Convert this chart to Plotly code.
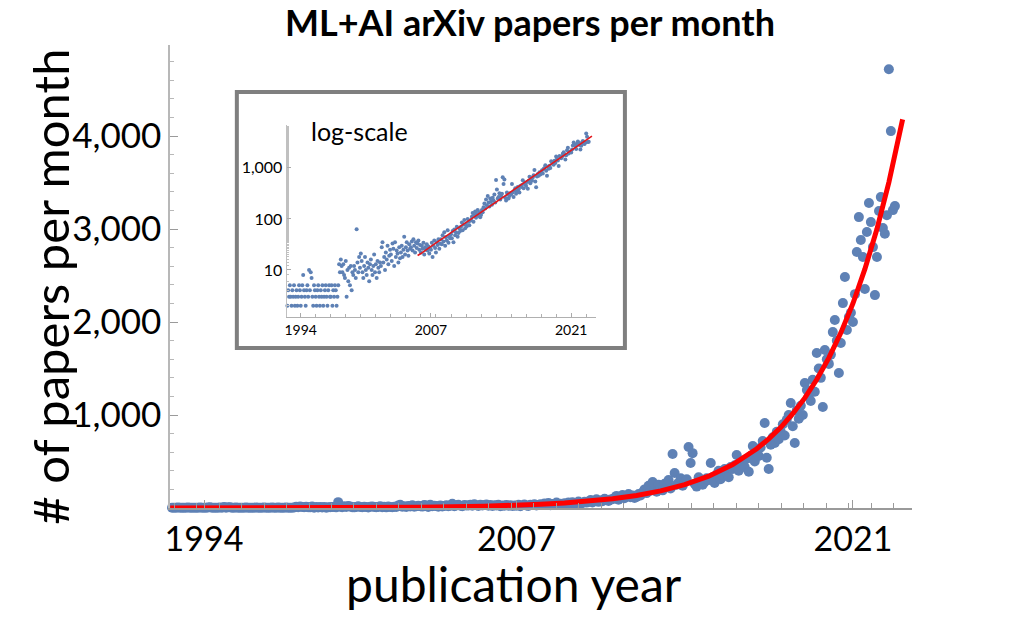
import pandas as pd
import plotly.graph_objects as go

# ---------------- data ----------------
first_month = "1992-08-01"
papers_per_month = [
    3, 2, 4, 3, 5,                                            # 1992 (Aug-Dec)
    3, 2, 4, 3, 5, 2, 3, 4, 2, 3, 5, 4,                       # 1993
    2, 3, 5, 8, 4, 3, 2, 4, 5, 3, 10, 4,                      # 1994
    9, 7, 3, 2, 5, 4, 3, 2, 4, 5, 3, 2,                       # 1995
    4, 3, 5, 2, 3, 4, 5, 3, 2, 4, 5, 3,                       # 1996
    3, 5, 2, 4, 3, 5, 4, 2, 3, 5, 13, 9,                      # 1997
    16, 12, 9, 13, 8, 7, 15, 3, 10, 6, 11, 5,                 # 1998
    12, 4, 9, 8, 12, 10, 7, 63, 14, 9, 18, 11,                # 1999
    21, 15, 9, 7, 12, 18, 10, 8, 14, 11, 6, 13,               # 2000
    16, 10, 8, 12, 20, 9, 13, 7, 15, 11, 9, 14,               # 2001
    12, 28, 35, 14, 18, 10, 22, 16, 30, 13, 19, 25,           # 2002
    20, 15, 33, 26, 12, 35, 18, 24, 21, 14, 28, 17,           # 2003
    22, 30, 18, 25, 45, 20, 28, 35, 24, 19, 32, 26,           # 2004
    28, 36, 24, 40, 30, 22, 35, 27, 33, 38, 25, 31,           # 2005
    22, 30, 26, 34, 20, 28, 25, 32, 24, 29, 21, 27,           # 2006
    25, 34, 18, 30, 38, 27, 22, 35, 31, 40, 26, 33,           # 2007
    40, 32, 48, 36, 55, 30, 44, 38, 60, 34, 46, 42,           # 2008
    50, 42, 58, 35, 62, 48, 55, 70, 45, 53, 66, 58,           # 2009
    70, 85, 60, 78, 95, 66, 80, 72, 100, 88, 75, 92,          # 2010
    95, 110, 130, 88, 120, 140, 105, 125, 150, 115, 135, 108, # 2011
    120, 150, 135, 170, 200, 160, 240, 185, 280, 210, 175, 250,  # 2012
    220, 190, 260, 230, 300, 210, 580, 376, 250, 270, 320, 240,  # 2013
    280, 310, 656, 484, 590, 260, 230, 330, 300, 250, 280, 320,  # 2014
    300, 484, 330, 270, 360, 400, 310, 350, 420, 380, 330, 440,  # 2015
    420, 460, 570, 400, 510, 480, 440, 530, 390, 560, 667, 500,  # 2016
    600, 560, 650, 720, 914, 540, 419, 680, 760, 700, 820, 740,  # 2017
    820, 900, 780, 950, 1000, 1129, 880, 700, 1050, 960, 1100, 1000,      # 2018
    1344, 1270, 1200, 1150, 1380, 1250, 1667, 1500, 1400, 1086, 1700, 1600,  # 2019
    1550, 1650, 1892, 2022, 1800, 1452, 1774, 2204, 2484, 1914, 2054, 2100,  # 2020
    2000, 2300, 2753, 3129, 2882, 2700, 2355, 2968, 3280, 3075, 2806, 2290,  # 2021
    2700, 3194, 3344, 3011, 2950, 3150, 4720, 4054, 3204, 3247,              # 2022 (Jan-Oct)
]

# exponential fit curve (red)
fit_dates = ["1992-08-01", "1996-01-01", "2000-01-01", "2003-01-01", "2005-09-01",
             "2006-01-01", "2007-01-01", "2008-01-01", "2009-01-01", "2010-01-01",
             "2011-01-01", "2012-01-01", "2013-01-01", "2014-01-01", "2015-01-01",
             "2016-01-01", "2016-07-01", "2017-01-01", "2017-07-01", "2018-01-01",
             "2018-07-01", "2019-01-01", "2019-07-01", "2020-01-01", "2020-07-01",
             "2021-01-01", "2021-07-01", "2022-01-01", "2022-07-01", "2023-01-26"]
fit_values = [0.3, 0.95, 3.3, 8.3, 19.2,
              21, 29, 39, 53, 73,
              99, 135, 184, 251, 342,
              467, 545, 637, 743, 868,
              1014, 1184, 1382, 1614, 1884,
              2200, 2569, 3000, 3503, 4180]
inset_fit_start = 4  # red line in inset starts at 2005-09

tick_years = ["1994-01-01", "2007-01-01", "2021-01-01"]
tick_labels = ["1994", "2007", "2021"]
y_ticks = [1000, 2000, 3000, 4000]
y_tick_labels = ["1,000", "2,000", "3,000", "4,000"]
log_ticks = [10, 100, 1000]
log_tick_labels = ["10", "100", "1,000"]

months = pd.date_range(first_month, periods=len(papers_per_month), freq="MS")

# ---------------- figure ----------------
W, H = 1009, 627
BLUE = "#5E81B5"
FONT = "Lato"
AX = "#9a9a9a"

def px(x):
    return x / W

def py(y):
    return 1 - y / H

x_range = ["1992-08-04", "2023-06-25"]
YEAR_MS = 365.25 * 86400000

fig = go.Figure()

# main chart
fig.add_trace(go.Scatter(x=months, y=papers_per_month, mode="markers",
                         marker=dict(color=BLUE, size=10, line=dict(width=0)),
                         cliponaxis=False, xaxis="x", yaxis="y", showlegend=False))
fig.add_trace(go.Scatter(x=fit_dates, y=fit_values, mode="lines",
                         line=dict(color="#FF0000", width=5),
                         cliponaxis=False, xaxis="x", yaxis="y", showlegend=False))

# inset (log scale)
fig.add_trace(go.Scatter(x=months, y=papers_per_month, mode="markers",
                         marker=dict(color=BLUE, size=4, line=dict(width=0)),
                         cliponaxis=False, xaxis="x2", yaxis="y2", showlegend=False))
fig.add_trace(go.Scatter(x=fit_dates[inset_fit_start:], y=fit_values[inset_fit_start:],
                         mode="lines", line=dict(color="#E3171C", width=1.6),
                         cliponaxis=False, xaxis="x2", yaxis="y2", showlegend=False))

fig.update_layout(
    width=W, height=H,
    margin=dict(l=0, r=0, t=0, b=0),
    paper_bgcolor="white", plot_bgcolor="rgba(0,0,0,0)",
    font=dict(family=FONT, color="black"),
    xaxis=dict(domain=[px(166), px(912)], type="date", range=x_range,
               tickmode="array", tickvals=tick_years, ticktext=tick_labels,
               ticks="inside", ticklen=8, tickcolor=AX, tickwidth=1,
               tickfont=dict(size=34, family=FONT),
               showline=True, linecolor=AX, linewidth=1.5,
               showgrid=False, zeroline=False, anchor="y",
               minor=dict(tickmode="linear", tick0="2020-10-31",
                          dtick=0.936 * YEAR_MS, ticks="inside",
                          ticklen=5, tickcolor=AX, showgrid=False)),
    yaxis=dict(domain=[py(508), py(45)], range=[0, 4980],
               tickmode="array", tickvals=y_ticks, ticktext=y_tick_labels,
               ticks="inside", ticklen=8, tickcolor=AX,
               tickfont=dict(size=35, family=FONT),
               showline=True, linecolor="#b8b8b8", linewidth=1.5,
               showgrid=False, zeroline=False, anchor="x",
               minor=dict(tickmode="linear", tick0=0, dtick=200, ticks="inside",
                          ticklen=4, tickcolor="#b8b8b8", showgrid=False)),
    xaxis2=dict(domain=[px(283), px(594)], type="date", range=x_range,
                tickmode="array", tickvals=tick_years, ticktext=tick_labels,
                ticks="inside", ticklen=4, tickcolor="#aaaaaa",
                tickfont=dict(size=14, family=FONT),
                showline=True, linecolor="#b0b0b0", linewidth=1,
                showgrid=False, zeroline=False, anchor="y2",
                minor=dict(tickmode="linear", tick0="2021-01-01",
                           dtick=1.5 * YEAR_MS, ticks="inside",
                           ticklen=3, tickcolor="#b0b0b0", showgrid=False)),
    yaxis2=dict(domain=[py(317), py(125)], type="log", range=[0.079, 3.84],
                tickmode="array", tickvals=log_ticks, ticktext=log_tick_labels,
                ticks="inside", ticklen=4, tickcolor="#aaaaaa",
                tickfont=dict(size=16, family=FONT),
                showline=True, linecolor="#c0c0c0", linewidth=1,
                showgrid=False, zeroline=False, anchor="x2",
                minor=dict(ticks="inside", ticklen=2, tickcolor="#c0c0c0",
                           showgrid=False)),
    shapes=[dict(type="rect", xref="paper", yref="paper", layer="below",
                 x0=px(233), x1=px(623), y0=py(348), y1=py(92),
                 line=dict(color="#7f7f7f", width=4), fillcolor="white")],
    annotations=[
        dict(text="<b>ML+AI arXiv papers per month</b>", xref="paper", yref="paper",
             x=px(528), y=py(22), xanchor="center", yanchor="middle",
             showarrow=False, font=dict(size=36, family=FONT)),
        dict(text="# of papers per month", xref="paper", yref="paper",
             x=px(45), y=py(287), xanchor="center", yanchor="middle",
             textangle=-90, showarrow=False, font=dict(size=49, family=FONT)),
        dict(text="publication year", xref="paper", yref="paper",
             x=px(512), y=py(583), xanchor="center", yanchor="middle",
             showarrow=False, font=dict(size=48, family=FONT)),
        dict(text="log-scale", xref="paper", yref="paper",
             x=px(356), y=py(131), xanchor="center", yanchor="middle",
             showarrow=False, font=dict(size=25, family=FONT)),
    ],
)

fig.write_html("out.html")
